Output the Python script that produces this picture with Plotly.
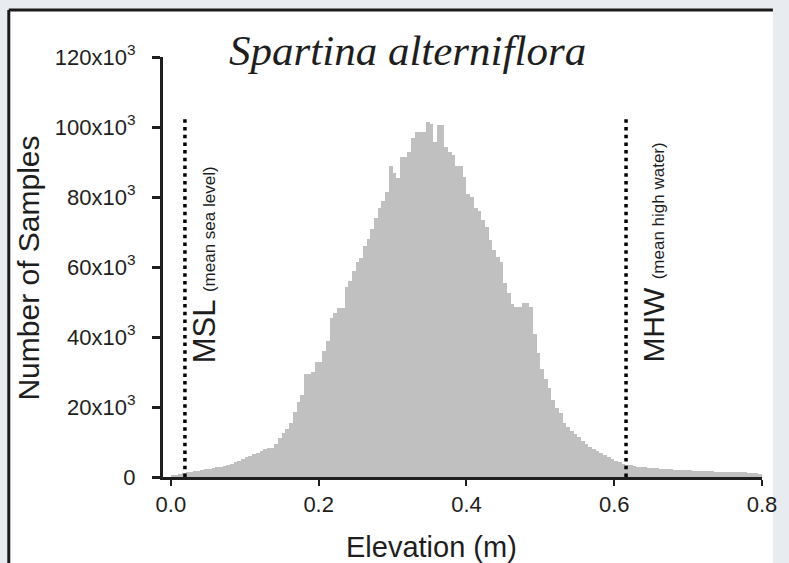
import numpy as np
import plotly.graph_objects as go

# ---- data ----
bin_start = 0.0
bin_width = 0.005
counts = [
    500, 700, 900, 1100, 1300, 1500, 1700, 1800, 2000, 2200,
    2300, 2500, 2800, 3000, 3100, 3400, 3800, 4200, 4600, 5100,
    5700, 6100, 6500, 7000, 7500, 7900, 8200, 8300, 9500, 11100,
    12600, 13800, 15400, 18500, 21500, 23400, 29400, 29400, 30000, 32900,
    33000, 36000, 39000, 45400, 47000, 48300, 48300, 54300, 56000, 59000,
    61500, 62600, 66000, 68000, 71000, 74000, 77000, 79000, 81400, 89000,
    87000, 85500, 91400, 91400, 93000, 96900, 98600, 98600, 98600, 101400,
    101000, 95700, 100600, 100600, 94300, 92900, 92000, 89000, 89000, 85700,
    81000, 80000, 76900, 76000, 73400, 71400, 67700, 64900, 63000, 61400,
    55400, 52600, 49500, 48600, 48600, 49700, 49700, 48500, 41000, 35400,
    31000, 28000, 25400, 22000, 19800, 18300, 15500, 14300, 13200, 12400,
    11300, 10200, 9500, 8700, 8100, 7400, 6800, 6200, 5700, 5100,
    4700, 4200, 3800, 3500, 3300, 3100, 3000, 2900, 2800, 2700,
    2600, 2500, 2400, 2300, 2300, 2200, 2100, 2000, 2000, 1900,
    1900, 1800, 1800, 1700, 1700, 1600, 1600, 1500, 1500, 1500,
    1400, 1400, 1400, 1300, 1300, 1300, 1200, 1200, 1100, 1000,
]
msl_x = 0.019
mhw_x = 0.616
ref_line_top = 102500
x_ticks = [0.0, 0.2, 0.4, 0.6, 0.8]
y_ticks = [0, 20000, 40000, 60000, 80000, 100000, 120000]
y_ticktext = ["0", "20x10<sup>3</sup>", "40x10<sup>3</sup>", "60x10<sup>3</sup>",
              "80x10<sup>3</sup>", "100x10<sup>3</sup>", "120x10<sup>3</sup>"]
title_text = "Spartina alterniflora"
x_title = "Elevation (m)"
y_title = "Number of Samples"

centers = bin_start + bin_width * (np.arange(len(counts)) + 0.5)

SANS = "Liberation Sans, Arial, sans-serif"
INK = "#1e1e1e"

L, R = 163, 20
PW = 789 - L - R  # plot-area width in px


def px_to_paper(px):
    return (px - L) / PW


fig = go.Figure()
fig.add_trace(go.Bar(x=centers, y=counts, width=bin_width,
                     marker=dict(color="#c0c0c0", line=dict(width=0)),
                     showlegend=False, hoverinfo="x+y"))
for xv in (msl_x, mhw_x):
    fig.add_trace(go.Scatter(x=[xv, xv], y=[0, ref_line_top], mode="lines",
                             line=dict(color="black", width=3.5, dash="3.5px,4.2px"),
                             showlegend=False, hoverinfo="skip"))

fig.update_layout(
    width=789, height=563, autosize=False,
    margin=dict(l=L, r=R, t=57, b=86),
    paper_bgcolor="#e8ecf0",
    plot_bgcolor="rgba(0,0,0,0)",
    bargap=0,
    font=dict(family=SANS, color=INK),
    xaxis=dict(range=[-0.0107, 0.8], tickvals=x_ticks, tickformat=".1f",
               showgrid=False, zeroline=False, showline=True, linecolor=INK, linewidth=3,
               ticks="outside", ticklen=6, tickwidth=1.5, tickcolor=INK,
               tickfont=dict(size=22, family=SANS, color=INK)),
    yaxis=dict(range=[0, 120000], tickvals=y_ticks, ticktext=y_ticktext,
               showgrid=False, zeroline=False, showline=True, linecolor=INK, linewidth=3,
               ticks="outside", ticklen=8, tickwidth=3, tickcolor=INK,
               ticklabelstandoff=12,
               tickfont=dict(size=22, family=SANS, color=INK)),
    shapes=[
        dict(type="rect", xref="paper", yref="paper", x0=px_to_paper(7), x1=px_to_paper(780),
             y0=-0.3, y1=1.112, fillcolor="white", line=dict(width=0), layer="below"),
        dict(type="line", xref="paper", yref="paper", x0=px_to_paper(7), x1=px_to_paper(7),
             y0=-0.3, y1=1.112, line=dict(color="#1a1a1a", width=3), layer="below"),
        dict(type="line", xref="paper", yref="paper", x0=px_to_paper(7), x1=px_to_paper(780),
             y0=1.112, y1=1.112, line=dict(color="#1a1a1a", width=3), layer="below"),
    ],
    annotations=[
        dict(text="<i>" + title_text + "</i>", xref="paper", yref="paper",
             x=px_to_paper(410), y=(477 - 76) / 420, xanchor="center", yanchor="bottom",
             showarrow=False, font=dict(family="Liberation Serif, Times New Roman, serif",
                                        size=43, color=INK)),
        dict(text=x_title, xref="paper", yref="paper", x=px_to_paper(435), y=(477 - 547) / 420,
             xanchor="center", yanchor="middle", showarrow=False,
             font=dict(size=29, family=SANS, color=INK)),
        dict(text=y_title, xref="paper", yref="paper", x=px_to_paper(26), y=(477 - 268) / 420,
             xanchor="center", yanchor="middle", textangle=-90, showarrow=False,
             font=dict(size=30, family=SANS, color=INK)),
        dict(text="MSL <span style='font-size:17px'>(mean sea level)</span>",
             xref="x", yref="y", x=0.0722, y=32000, xanchor="right", yanchor="bottom",
             textangle=-90, showarrow=False, font=dict(size=31, family=SANS, color=INK)),
        dict(text="MHW <span style='font-size:17px'>(mean high water)</span>",
             xref="x", yref="y", x=0.677, y=32000, xanchor="right", yanchor="bottom",
             textangle=-90, showarrow=False, font=dict(size=30, family=SANS, color=INK)),
    ],
)

fig.write_html(
    "out.html",
    config={"displayModeBar": False, "responsive": False},
    post_script=("document.documentElement.style.overflow='hidden';"
                 "document.body.style.overflow='hidden';"
                 "document.body.style.margin='0';document.body.style.padding='0';"),
)
